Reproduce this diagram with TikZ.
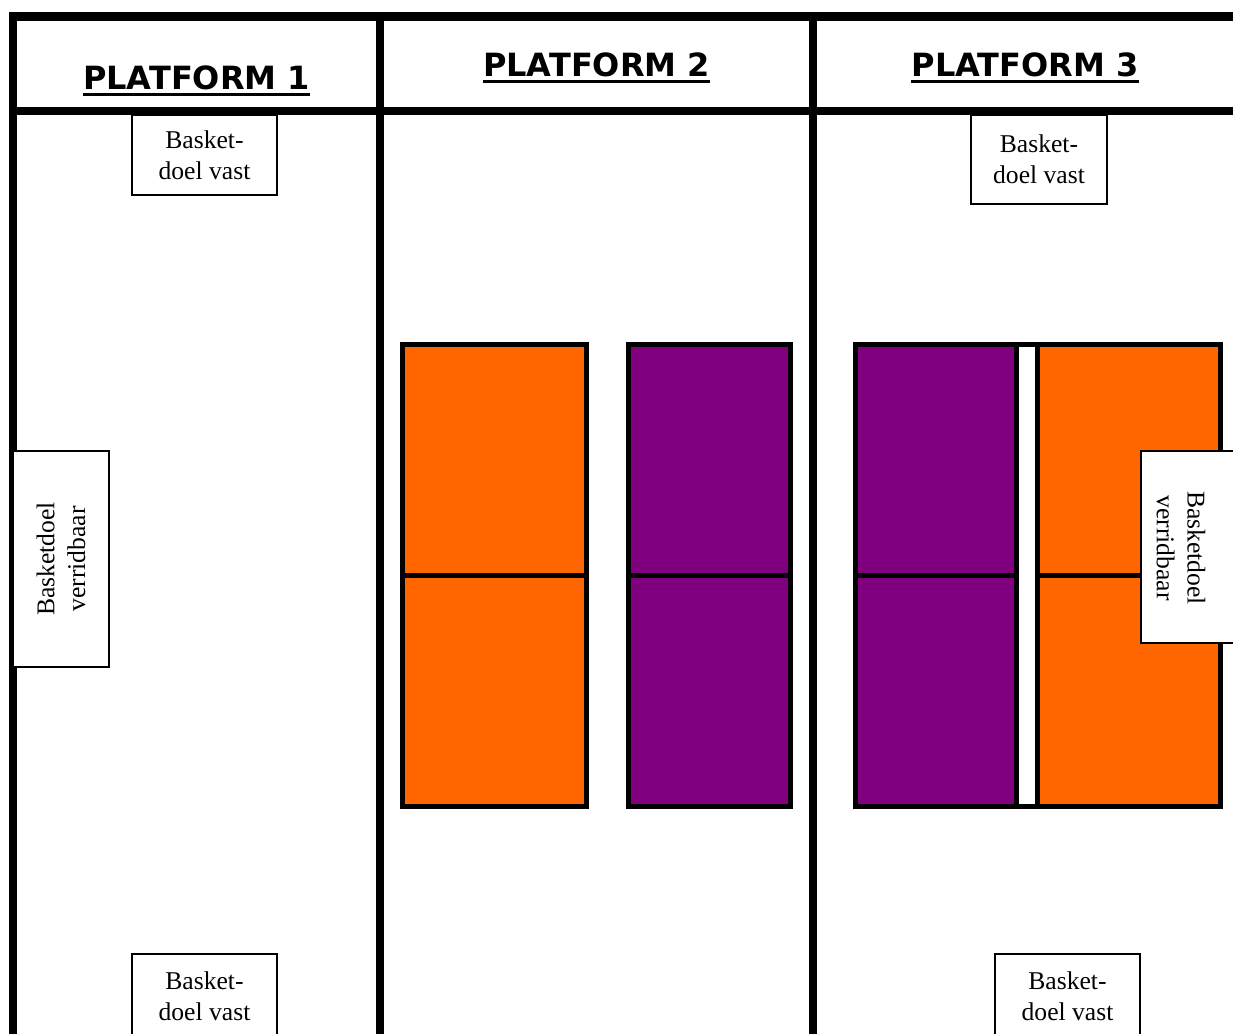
\documentclass[tikz,border=0pt]{standalone}
\usepackage{fontspec}
\setmainfont{Liberation Serif}
\newfontfamily\headfont{DejaVu Sans}
\definecolor{courtorange}{HTML}{FF6600}
\definecolor{courtpurple}{HTML}{800080}
\tikzset{
  wall/.style={line width=6.4pt},
  court/.style={line width=3.75pt},
  goal/.style={draw, line width=0.8pt, fill=white, align=center, inner sep=0pt,
    font=\fontsize{19.2}{23}\selectfont},
  header/.style={inner sep=0pt, font=\headfont\bfseries\fontsize{24}{28}\selectfont}
}
\begin{document}
\begin{tikzpicture}[x=0.75pt,y=-0.75pt]
\useasboundingbox (0,0) rectangle (1233,1034);
\clip (0,0) rectangle (1233,1034);

% walls
\draw[wall] (13,1050) -- (13,16.5) -- (1250,16.5);
\draw[wall] (9,111) -- (1250,111);
\foreach \x in {380,813}
  \draw[wall] (\x,12) -- (\x,1050);

\node[header, anchor=base] (p1) at (196.5,90) {PLATFORM 1};
\node[header, anchor=base] (p2) at (596.5,77) {PLATFORM 2};
\node[header, anchor=base] (p3) at (1025,77) {PLATFORM 3};
\foreach \p in {p1,p2,p3}
  \draw[line width=2.3pt] ([yshift=-3.4pt]\p.base west) -- ([yshift=-3.4pt]\p.base east);

% courts
\begin{scope}[court]
\foreach \xa/\xb/\c in {402.5/586.5/courtorange, 628.5/790.5/courtpurple,
    855.5/1016.5/courtpurple, 1037/1220.5/courtorange}{
\draw[fill=\c] (\xa,344.5) rectangle (\xb,806.5);
\draw (\xa,575.5) -- (\xb,575.5);
}
\draw (855.5,344.5) rectangle (1220.5,806.5);
\end{scope}

% goals
\node[goal, minimum width=108.75pt, minimum height=60pt] (goalA) at (204.5,155) {Basket-\\doel vast};
\node[goal, minimum width=102pt, minimum height=66.75pt] (goalB) at (1039,159.5) {Basket-\\doel vast};
\node[goal, minimum width=108.75pt, minimum height=63.75pt] (goalC) at (204.5,996.5) {Basket-\\doel vast};
\node[goal, minimum width=108.75pt, minimum height=63.75pt] (goalD) at (1067.5,996.5) {Basket-\\doel vast};
\node[goal, rotate=90, minimum width=162pt, minimum height=72pt] (moveA) at (61,559) {Basketdoel\\verridbaar};
\draw[goal] (1141,451) rectangle (1250,643);
\node[goal, draw=none, fill=none, rotate=-90] (moveB) at (1181,548) {Basketdoel\\verridbaar};

\end{tikzpicture}
\end{document}
